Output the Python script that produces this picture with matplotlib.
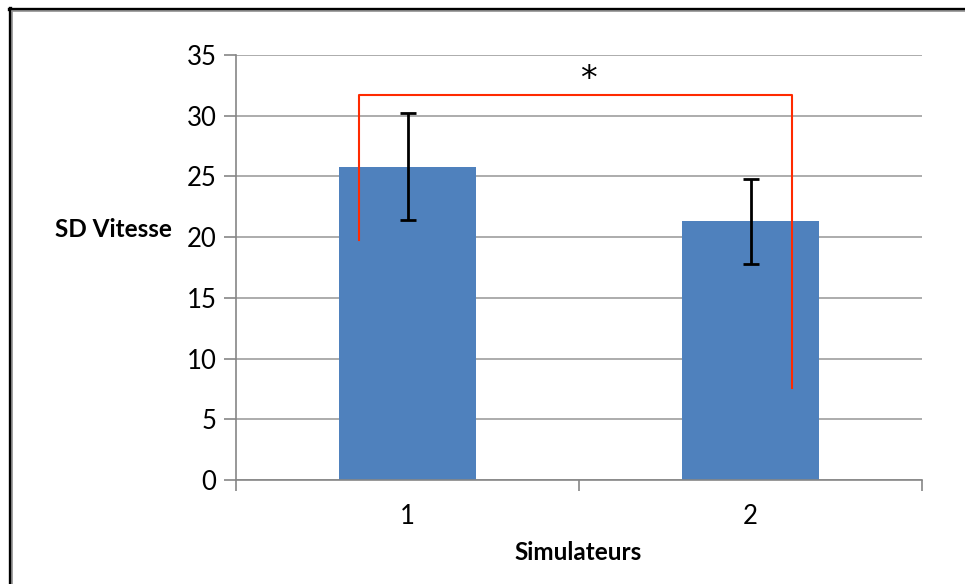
import matplotlib.pyplot as plt
from matplotlib.lines import Line2D

# data
categories = ['1', '2']
means = [25.8, 21.3]
errors = [4.4, 3.5]

# significance bracket (data coords)
bracket_x = [-0.141, -0.141, 1.121, 1.121]
bracket_y = [19.8, 31.7, 31.7, 7.6]
star_pos = (0.526, 33.0)

plt.rcParams['font.family'] = ['Lato', 'DejaVu Sans']

fig = plt.figure(figsize=(9.65, 5.84), dpi=100)
ax = fig.add_axes([236 / 965, 1 - 480 / 584, (922 - 236) / 965, (480 - 55) / 584])

x = list(range(len(categories)))
ax.bar(x, means, width=0.4, color='#4f81bd', zorder=2)
ax.errorbar(x, means, yerr=errors, fmt='none', ecolor='black', elinewidth=2,
            capsize=6, capthick=2, zorder=3)

ax.plot(bracket_x, bracket_y, color='#ff2a00', linewidth=1.5, zorder=4)
ax.text(star_pos[0], star_pos[1], '*', ha='center', va='center', fontsize=24,
        family='DejaVu Sans')

ax.set_xlim(-0.5, 1.5)
ax.set_ylim(0, 35)
ax.set_yticks(range(0, 36, 5))
ax.yaxis.grid(True, color='#a6a6a6', linewidth=1.3, zorder=0)
ax.set_axisbelow(True)

# category ticks sit between the groups, Excel style
ax.set_xticks([-0.5, 0.5, 1.5])
ax.set_xticklabels([])
ax.set_xticks(x, minor=True)
ax.set_xticklabels(categories, minor=True)
ax.tick_params(axis='x', which='major', direction='out', length=8, color='#868686', width=1.2)
ax.tick_params(axis='x', which='minor', length=0, pad=17, labelsize=18.5)
ax.tick_params(axis='y', direction='out', length=9, color='#868686', width=1.2,
               labelsize=18.5, pad=5)

for side in ['top', 'right']:
    ax.spines[side].set_visible(False)
for side in ['left', 'bottom']:
    ax.spines[side].set_color('#868686')
    ax.spines[side].set_linewidth(1.2)

ax.text(-0.093, 20.6, 'SD Vitesse', transform=ax.get_yaxis_transform(), ha='right',
        va='center', fontsize=17.5, fontweight='bold')
fig.text(578 / 965, 1 - 553 / 584, 'Simulateurs', ha='center', va='center',
         fontsize=17.5, fontweight='bold')

# frame of the pasted chart (left and top edges only visible)
fig.add_artist(Line2D([9.5 / 965, 9.5 / 965], [0, 1 - 7.5 / 584], color='black', linewidth=2.4))
fig.add_artist(Line2D([12 / 965, 12 / 965], [0, 1 - 10 / 584], color='#999999', linewidth=1.2))
fig.add_artist(Line2D([8.5 / 965, 1], [1 - 8.5 / 584, 1 - 8.5 / 584], color='black', linewidth=2.4))
fig.add_artist(Line2D([12 / 965, 1], [1 - 11 / 584, 1 - 11 / 584], color='#999999', linewidth=1.2))

fig.savefig('out.png', dpi=100)
